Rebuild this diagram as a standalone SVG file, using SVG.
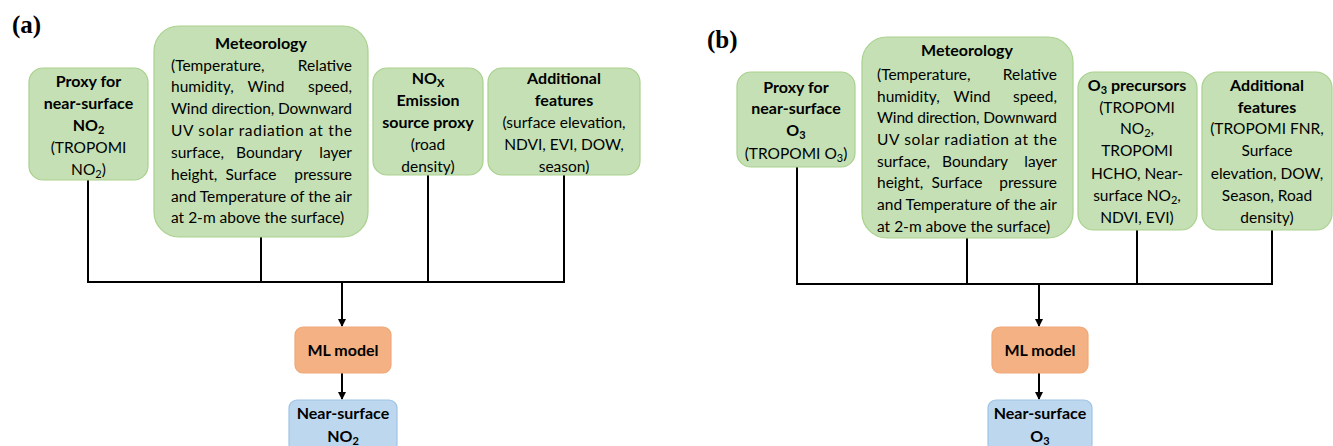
<svg xmlns="http://www.w3.org/2000/svg" width="1333" height="446" viewBox="0 0 1333 446">
<style>
.g{fill:#c5e0b4;stroke:#a9d18e;stroke-width:1.2}
.o{fill:#f4b183;stroke:#f0a878;stroke-width:1.2}
.u{fill:#bdd7ee;stroke:#9dc3e6;stroke-width:1.2}
text{font-family:Lato,"Liberation Sans",sans-serif;font-size:15.5px;fill:#000}
.b{font-weight:bold;font-size:16px}
.m{text-anchor:middle}
.e{text-anchor:end}
.lab{font-family:"Liberation Serif","Times New Roman",serif;font-weight:bold;font-size:25px}
.s{font-size:11px}
.c{fill:none;stroke:#000;stroke-width:2}
</style>
<defs>
<marker id="ah" markerWidth="8" markerHeight="8" refX="7" refY="4" orient="auto" markerUnits="userSpaceOnUse">
<path d="M0,0 L8,4 L0,8 Z" fill="#000"/>
</marker>
</defs>

<text class="lab" x="12" y="33">(a)</text>
<text class="lab" x="707" y="48">(b)</text>

<g id="connectors">
<path class="c" d="M88,180 V282 M261,237 V282 M428,175 V282 M564,175 V282 M87,282 H565"/>
<path class="c" d="M342,282 V326" marker-end="url(#ah)"/>
<path class="c" d="M342,373 V399" marker-end="url(#ah)"/>
<path class="c" d="M797,167 V284 M967,238 V284 M1137,230 V284 M1272,230 V284 M796,284 H1273"/>
<path class="c" d="M1039,284 V326" marker-end="url(#ah)"/>
<path class="c" d="M1039,373 V399" marker-end="url(#ah)"/>
</g>

<g id="a-proxy">
<rect class="g" x="29" y="68" width="119" height="112" rx="14"/>
<text class="b m" x="88.5" y="87">Proxy for</text>
<text class="b m" x="88.5" y="109">near-surface</text>
<text class="b m" x="88.5" y="131">NO<tspan class="s" dy="3">2</tspan></text>
<text class="m" x="88.5" y="153">(TROPOMI</text>
<text class="m" x="88.5" y="175">NO<tspan class="s" dy="3">2</tspan><tspan dy="-3">)</tspan></text>
</g>

<g id="a-meteorology">
<rect class="g" x="154" y="26" width="214" height="211" rx="25"/>
<text class="b m" x="261" y="49">Meteorology</text>
<text x="171" y="71">(Temperature,</text><text class="e" x="352" y="71">Relative</text>
<text x="171" y="92">humidity,</text><text class="m" x="266" y="92">Wind</text><text class="e" x="352" y="92">speed,</text>
<text x="171" y="114" textLength="181" lengthAdjust="spacing">Wind direction, Downward</text>
<text x="171" y="136" textLength="181" lengthAdjust="spacing">UV solar radiation at the</text>
<text x="171" y="158">surface,</text><text class="m" x="269" y="158">Boundary</text><text class="e" x="352" y="158">layer</text>
<text x="171" y="180">height,</text><text class="m" x="251" y="180">Surface</text><text class="e" x="352" y="180">pressure</text>
<text x="171" y="202" textLength="181" lengthAdjust="spacing">and Temperature of the air</text>
<text x="171" y="223">at 2-m above the surface)</text>
</g>

<g id="a-nox">
<rect class="g" x="373" y="68" width="110" height="107" rx="14"/>
<text class="b m" x="428" y="84">NO<tspan class="s" dy="3">X</tspan></text>
<text class="b m" x="428" y="106">Emission</text>
<text class="b m" x="428" y="128">source proxy</text>
<text class="m" x="428" y="150">(road</text>
<text class="m" x="428" y="172">density)</text>
</g>

<g id="a-additional">
<rect class="g" x="488" y="68" width="152" height="107" rx="14"/>
<text class="b m" x="564" y="84">Additional</text>
<text class="b m" x="564" y="106">features</text>
<text class="m" x="564" y="128">(surface elevation,</text>
<text class="m" x="564" y="150">NDVI, EVI, DOW,</text>
<text class="m" x="564" y="172">season)</text>
</g>

<g id="a-ml">
<rect class="o" x="295" y="327" width="96" height="46" rx="8"/>
<text class="b m" x="343" y="356">ML model</text>
</g>

<g id="a-output">
<rect class="u" x="289" y="400" width="108" height="52" rx="8"/>
<text class="b m" x="343" y="419">Near-surface</text>
<text class="b m" x="343" y="442">NO<tspan class="s" dy="3">2</tspan></text>
</g>

<g id="b-proxy">
<rect class="g" x="737" y="72" width="118" height="95" rx="14"/>
<text class="b m" x="796" y="93">Proxy for</text>
<text class="b m" x="796" y="114">near-surface</text>
<text class="b m" x="796" y="136">O<tspan class="s" dy="3">3</tspan></text>
<text class="m" x="796" y="159">(TROPOMI O<tspan class="s" dy="3">3</tspan><tspan dy="-3">)</tspan></text>
</g>

<g id="b-meteorology">
<rect class="g" x="862" y="37" width="211" height="201" rx="25"/>
<text class="b m" x="967" y="56">Meteorology</text>
<text x="877" y="80">(Temperature,</text><text class="e" x="1057" y="80">Relative</text>
<text x="877" y="102">humidity,</text><text class="m" x="972" y="102">Wind</text><text class="e" x="1057" y="102">speed,</text>
<text x="877" y="123" textLength="180" lengthAdjust="spacing">Wind direction, Downward</text>
<text x="877" y="145" textLength="180" lengthAdjust="spacing">UV solar radiation at the</text>
<text x="877" y="167">surface,</text><text class="m" x="975" y="167">Boundary</text><text class="e" x="1057" y="167">layer</text>
<text x="877" y="188">height,</text><text class="m" x="957" y="188">Surface</text><text class="e" x="1057" y="188">pressure</text>
<text x="877" y="210" textLength="180" lengthAdjust="spacing">and Temperature of the air</text>
<text x="877" y="232">at 2-m above the surface)</text>
</g>

<g id="b-precursors">
<rect class="g" x="1078" y="72" width="119" height="158" rx="16"/>
<text class="b m" x="1137" y="91">O<tspan class="s" dy="3">3</tspan><tspan dy="-3"> precursors</tspan></text>
<text class="m" x="1137" y="113">(TROPOMI</text>
<text class="m" x="1137" y="134">NO<tspan class="s" dy="3">2</tspan><tspan dy="-3">,</tspan></text>
<text class="m" x="1137" y="156">TROPOMI</text>
<text class="m" x="1137" y="179">HCHO, Near-</text>
<text class="m" x="1137" y="201">surface NO<tspan class="s" dy="3">2</tspan><tspan dy="-3">,</tspan></text>
<text class="m" x="1137" y="223">NDVI, EVI)</text>
</g>

<g id="b-additional">
<rect class="g" x="1202" y="72" width="130" height="158" rx="16"/>
<text class="b m" x="1267" y="91">Additional</text>
<text class="b m" x="1267" y="113">features</text>
<text class="m" x="1267" y="134">(TROPOMI FNR,</text>
<text class="m" x="1267" y="156">Surface</text>
<text class="m" x="1267" y="179">elevation, DOW,</text>
<text class="m" x="1267" y="201">Season, Road</text>
<text class="m" x="1267" y="223">density)</text>
</g>

<g id="b-ml">
<rect class="o" x="992" y="327" width="96" height="46" rx="8"/>
<text class="b m" x="1040" y="356">ML model</text>
</g>

<g id="b-output">
<rect class="u" x="988" y="400" width="104" height="52" rx="8"/>
<text class="b m" x="1040" y="419">Near-surface</text>
<text class="b m" x="1040" y="442">O<tspan class="s" dy="3">3</tspan></text>
</g>
</svg>
